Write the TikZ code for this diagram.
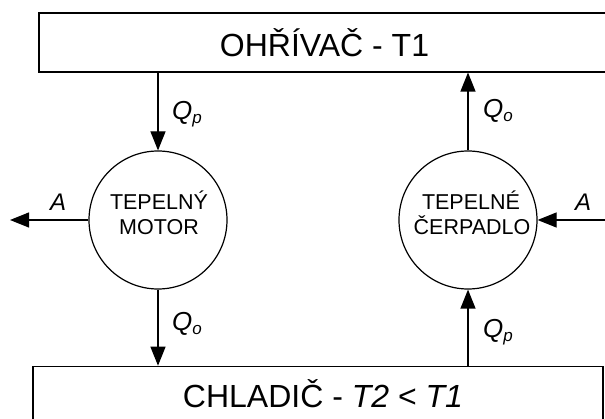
\documentclass[tikz,border=0pt]{standalone}
\usepackage{fontspec}
\setmainfont{Liberation Sans}
\usetikzlibrary{arrows.meta}
\newcommand\qsub[1]{\raisebox{-3.5pt}{\fontsize{17}{17}\selectfont #1}}
\begin{document}
\begin{tikzpicture}[x=1pt,y=-1pt,
  boxline/.style={draw, line width=1.7pt, rectangle, inner sep=0pt},
  circ/.style={draw, circle, line width=1.2pt, minimum size=138pt, inner sep=0pt},
  flow/.style={line width=1.2pt, -{Triangle[length=19pt,width=15pt]}},
  big/.style={font=\fontsize{32}{37}\selectfont, inner sep=0pt},
  ctext/.style={font=\fontsize{21.5}{25}\selectfont, inner sep=0pt, anchor=base},
  qlab/.style={font=\fontsize{26}{30}\selectfont\itshape, inner sep=0pt, anchor=base west},
  alab/.style={font=\fontsize{24}{28}\selectfont\itshape, inner sep=0pt, anchor=base west},
]
\useasboundingbox (0,0) rectangle (605,419);
\clip (0,0) rectangle (605,419);

% reservoirs
\node[boxline, big, minimum width=570.4pt, minimum height=58.4pt] (heater) at (324.5,42.5) {OHŘÍVAČ - T1};
\node[boxline, minimum width=570pt, minimum height=90pt, anchor=north west] (cooler) at (32.3,365.7) {};
\node[big, anchor=base] (coolertext) at (323,407) {CHLADIČ - \textit{T2} < \textit{T1}};

% machines
\node[circ] (motor) at (158,220) {};
\node[circ] (pump) at (468,220) {};
\node[ctext] (m1) at (159,210) {TEPELNÝ};
\node[ctext] (m2) at (159,235) {MOTOR};
\node[ctext] (p1) at (471,210) {TEPELNÉ};
\node[ctext] (p2) at (472,235) {ČERPADLO};

% flows
\draw[flow] (heater.south -| motor.north) -- (motor.north);
\draw[flow] (motor.south) -- (motor.south |- cooler.north);
\draw[flow] (cooler.north -| pump.south) -- (pump.south);
\draw[flow] (pump.north) -- (pump.north |- heater.south);
\coordinate (Aout) at (10,220);
\coordinate (Ain) at (615,220);
\draw[flow] (motor.west) -- (Aout);
\draw[flow] (Ain) -- (pump.east);

% labels
\node[qlab] (q1) at (172,120) {Q\qsub{p}};
\node[qlab] (q2) at (483,118) {Q\qsub{o}};
\node[qlab] (q3) at (172,331) {Q\qsub{o}};
\node[qlab] (q4) at (483,338) {Q\qsub{p}};
\node[alab] (a1) at (50,211) {A};
\node[alab] (a2) at (575,211) {A};
\end{tikzpicture}
\end{document}
